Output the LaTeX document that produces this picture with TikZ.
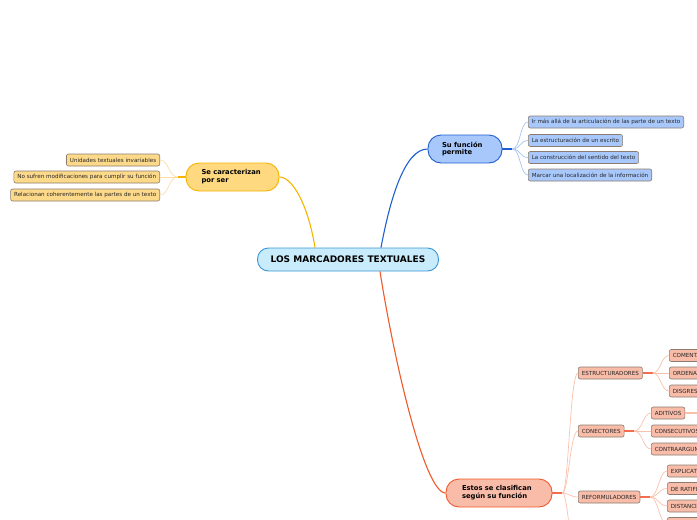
\documentclass[tikz,border=0pt]{standalone}
\usepackage{fontspec}
\setmainfont{DejaVu Sans}

\definecolor{rootfill}{HTML}{C9ECFC}
\definecolor{rootdraw}{HTML}{3A95D5}
\definecolor{yelfill}{HTML}{FFD97F}
\definecolor{yeldraw}{HTML}{F5B400}
\definecolor{yelleaf}{HTML}{FDD98A}
\definecolor{yellight}{HTML}{FFDCA0}
\definecolor{blufill}{HTML}{A8C8FC}
\definecolor{bludraw}{HTML}{1E5ECF}
\definecolor{blulight}{HTML}{A9C5F2}
\definecolor{redfill}{HTML}{F9BCA8}
\definecolor{reddraw}{HTML}{F0592A}
\definecolor{redlight}{HTML}{FBC0AC}
\definecolor{redstub}{HTML}{F26D4E}
\definecolor{leafdraw}{HTML}{8A7C70}

\begin{document}
\begin{tikzpicture}[
    x=1pt, y=-1pt,
    root/.style={rectangle, draw=rootdraw, fill=rootfill, line width=0.9pt, rounded corners=11pt, minimum width=181pt, minimum height=23pt, font=\fontsize{9}{10}\selectfont\bfseries},
    topic/.style={rectangle, line width=0.9pt, rounded corners=13pt, minimum height=28pt, inner ysep=0pt, align=left, font=\fontsize{6.8}{7.8}\selectfont\bfseries},
    leaf/.style={rectangle, draw=leafdraw, line width=0.6pt, rounded corners=2pt, minimum height=12pt, inner ysep=0pt, inner xsep=3.5pt, text=black!85, font=\fontsize{5.6}{6.5}\selectfont},
    yleaf/.style={leaf, fill=yelleaf},
    bleaf/.style={leaf, fill=blufill},
    rleaf/.style={leaf, fill=redfill},
    branch/.style={line width=1.1pt},
    twig/.style={line width=0.7pt}
]
    \useasboundingbox (0,0) rectangle (697,520);
    \clip (0,0) rectangle (697,520);

    % centre and main topics
    \node[root] (root) at (348,259.5) {LOS MARCADORES TEXTUALES};
    \node[topic, draw=yeldraw, fill=yelfill, text width=62pt, inner xsep=15.5pt] (car) at (232.5,177) {Se caracterizan\\por ser};
    \node[topic, draw=bludraw, fill=blufill, text width=46pt, inner xsep=14pt] (fun) at (465,149) {Su función\\permite};
    \node[topic, draw=reddraw, fill=redfill, text width=74pt, inner xsep=16pt] (est) at (499,493) {Estos se clasifican\\según su función};

    \draw[branch, draw=yeldraw] ([xshift=-33pt]root.north) .. controls +(-7,-43) and +(13,0) .. (car.east);
    \draw[branch, draw=bludraw] ([xshift=33pt]root.north) .. controls +(9,-48) and +(-23,0) .. (fun.west);
    \draw[branch, draw=reddraw] ([xshift=32pt]root.south) .. controls +(14,89) and +(-21,0) .. (est.west);

    % Se caracterizan por ser
    \node[yleaf, anchor=east] (uni) at (160,160) {Unidades textuales invariables};
    \node[yleaf, anchor=east] (mod) at (160,177) {No sufren modificaciones para cumplir su función};
    \node[yleaf, anchor=east] (rel) at (160,195) {Relacionan coherentemente las partes de un texto};

    \coordinate (car-b) at ([xshift=-8pt]car.west);
    \draw[branch, draw=yeldraw] (car.west) -- (car-b);
    \foreach \n in {uni, mod, rel}
        \draw[twig, draw=yellight] (car-b) .. controls +(-9,0) and +(9,0) .. (\n.east);

    % Su funcion permite
    \node[bleaf, anchor=west] (art) at (528,122) {Ir más allá de la articulación de las parte de un texto};
    \node[bleaf, anchor=west] (esc) at (528,140.5) {La estructuración de un escrito};
    \node[bleaf, anchor=west] (sen) at (528,157.5) {La construcción del sentido del texto};
    \node[bleaf, anchor=west] (loc) at (528,175) {Marcar una localización de la información};

    \coordinate (fun-b) at ([xshift=10pt]fun.east);
    \draw[branch, draw=bludraw] (fun.east) -- (fun-b);
    \foreach \n in {art, esc, sen, loc}
        \draw[twig, draw=blulight] (fun-b) .. controls +(8,0) and +(-8,0) .. (\n.west);

    % Estos se clasifican segun su funcion
    \node[rleaf, anchor=west] (estr) at (578,373) {ESTRUCTURADORES};
    \node[rleaf, anchor=west] (con) at (578,431) {CONECTORES};
    \node[rleaf, anchor=west] (ref) at (578,497) {REFORMULADORES};
    \coordinate (ope) at (578,565);

    \coordinate (est-b) at ([xshift=10pt]est.east);
    \draw[branch, draw=redstub] (est.east) -- (est-b);
    \foreach \n in {estr, con, ref}
        \draw[twig, draw=redlight] (est-b) .. controls +(6,0) and +(-8,0) .. (\n.west);
    \draw[twig, draw=redlight] (est-b) .. controls +(6,0) and +(-8,0) .. (ope);

    % estructuradores
    \node[rleaf, anchor=west] (com) at (669,355.5) {COMENTADORES};
    \node[rleaf, anchor=west] (ord) at (669,373) {ORDENADORES};
    \node[rleaf, anchor=west] (dis) at (669,391) {DISGRESORES};
    \coordinate (estr-b) at ([xshift=10pt]estr.east);
    \draw[branch, draw=redstub] (estr.east) -- (estr-b);
    \foreach \n in {com, ord, dis}
        \draw[twig, draw=redlight] (estr-b) .. controls +(8,0) and +(-8,0) .. (\n.west);

    % conectores
    \node[rleaf, anchor=west] (adi) at (651,413) {ADITIVOS};
    \node[rleaf, anchor=west] (cons) at (651,431) {CONSECUTIVOS};
    \node[rleaf, anchor=west] (contra) at (651,449) {CONTRAARGUMENTATIVOS};
    \coordinate (con-b) at ([xshift=10pt]con.east);
    \draw[branch, draw=redstub] (con.east) -- (con-b);
    \foreach \n in {adi, cons, contra}
        \draw[twig, draw=redlight] (con-b) .. controls +(8,0) and +(-8,0) .. (\n.west);
    \coordinate (adi-out) at (720,413);
    \draw[branch, draw=redlight] (adi.east) -- (adi-out);

    % reformuladores
    \node[rleaf, anchor=west] (expl) at (667,471) {EXPLICATIVOS};
    \node[rleaf, anchor=west] (rati) at (667,488.5) {DE RATIFICACIÓN};
    \node[rleaf, anchor=west] (dist) at (667,506) {DISTANCIAMIENTO};
    \node[rleaf, anchor=west] (reca) at (667,523.5) {RECAPITULATIVOS};
    \coordinate (ref-b) at ([xshift=10pt]ref.east);
    \draw[branch, draw=redstub] (ref.east) -- (ref-b);
    \foreach \n in {expl, rati, dist, reca}
        \draw[twig, draw=redlight] (ref-b) .. controls +(8,0) and +(-8,0) .. (\n.west);
\end{tikzpicture}
\end{document}
